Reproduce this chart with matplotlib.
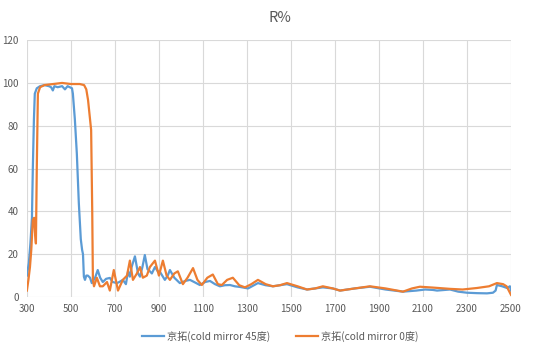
import matplotlib
matplotlib.use("Agg")
import matplotlib.pyplot as plt

plt.rcParams['font.family'] = ['Noto Sans CJK SC', 'DejaVu Sans']

title = "R%"
label_45 = "京拓(cold mirror 45度)"
label_0 = "京拓(cold mirror 0度)"

wl_45 = [300, 309, 316, 323, 327, 332, 336, 345, 360, 380, 400, 410, 418, 425, 440, 460, 473, 485, 495, 505,
         509, 518, 527, 536, 545, 551, 555, 559, 564, 570, 577, 587, 595, 610, 622, 633, 645, 660, 677, 690,
         709, 720, 736, 750, 760, 768, 776, 791, 805, 814, 825, 836, 848, 859, 868, 882, 895, 905, 927, 940,
         950, 970, 995, 1020, 1041, 1060, 1086, 1110, 1132, 1155, 1177, 1200, 1223, 1245, 1268, 1305, 1350,
         1385, 1418, 1450, 1482, 1530, 1573, 1610, 1645, 1690, 1723, 1790, 1859, 1930, 2009, 2070, 2110, 2145,
         2164, 2223, 2260, 2300, 2345, 2391, 2418, 2430, 2436, 2460, 2482, 2495, 2500]
r_45 = [10, 16, 25, 37, 60, 83, 95, 97.5, 98.5, 99, 98.5, 98, 96.5, 98.5, 98, 98.5, 97, 98.5, 98, 97.5,
        95, 83, 67, 44, 27, 22, 20, 9.5, 8, 10, 10, 9, 6.5, 9, 12.6, 9, 7, 8.5, 8.9, 7,
        6.5, 7, 8, 6, 12, 9.5, 14, 19, 11, 9.5, 14, 19.6, 13, 12, 11, 14, 12, 11.7, 8, 10,
        12.6, 9, 6.5, 7.5, 8, 7, 5.6, 7, 7.5, 6, 5, 5.5, 5.6, 5, 4.7, 4, 6.5,
        5.5, 5, 5.5, 6, 4.5, 3.5, 4, 4.5, 4, 3, 4, 4.8, 3.5, 2.5, 3, 3.5, 3.3,
        3, 3.5, 2.5, 2, 1.8, 1.7, 2, 3, 5.6, 5, 4.2, 5, 3]

wl_0 = [300, 307, 314, 320, 327, 333, 337, 341, 345, 350, 360, 380, 420, 460, 500, 540, 560, 570, 578, 585,
        592, 597, 600, 605, 618, 632, 645, 664, 677, 695, 714, 736, 755, 768, 782, 800, 814, 827, 845, 859,
        882, 900, 918, 935, 950, 970, 986, 1009, 1030, 1055, 1075, 1095, 1120, 1145, 1168, 1186, 1210, 1236,
        1265, 1291, 1320, 1350, 1385, 1418, 1450, 1482, 1530, 1573, 1610, 1645, 1690, 1723, 1790, 1859, 1930,
        2009, 2050, 2086, 2145, 2223, 2280, 2345, 2400, 2436, 2464, 2480, 2490, 2500]
r_0 = [3, 8, 14, 22, 36, 37, 30, 25, 60, 95, 98, 99, 99.5, 100, 99.5, 99.5, 99, 97, 92, 85,
       78, 40, 8, 5, 9, 5, 5, 7, 3, 12.6, 3, 8, 10, 17, 8, 11, 14, 9, 10, 14,
       17, 10, 17, 10, 8, 11, 12, 6, 9, 13.5, 8, 5.6, 9, 10.5, 6, 5.6, 8, 9,
       5.5, 4.5, 6, 8, 6, 5, 5.5, 6.5, 5, 3.5, 4, 5, 4, 3, 4, 5, 4,
       2.5, 4, 4.8, 4.4, 3.8, 3.5, 4.2, 5, 6.5, 6, 5, 3, 1]

x_ticks = list(range(300, 2501, 200))
y_ticks = list(range(0, 121, 20))

blue = "#5B9BD5"
orange = "#ED7D31"
grid_c = "#D9D9D9"
text_c = "#595959"

fig = plt.figure(figsize=(5.6, 3.49), dpi=100)
ax = fig.add_axes([0.048, 0.149, 0.8645, 0.736])

ax.plot(wl_45, r_45, color=blue, lw=1.6, label=label_45, zorder=3)
ax.plot(wl_0, r_0, color=orange, lw=1.6, label=label_0, zorder=3)

ax.set_xlim(300, 2500)
ax.set_ylim(0, 120)
ax.set_xticks(x_ticks)
ax.set_yticks(y_ticks)
ax.grid(True, color=grid_c, lw=0.8)
ax.set_axisbelow(True)
for s in ax.spines.values():
    s.set_visible(False)
ax.tick_params(length=0, labelsize=7, colors=text_c, pad=5)
ax.tick_params(axis='y', pad=6)

fig.text(0.5, 0.947, title, ha='center', va='center', fontsize=10.5, color=text_c)

leg = fig.legend(loc='center', bbox_to_anchor=(0.5, 0.037), ncol=2, frameon=False,
                 fontsize=7.3, handlelength=2.2, columnspacing=2.5, handletextpad=0.3)
for t in leg.get_texts():
    t.set_color(text_c)

fig.savefig("out.png", dpi=100)
